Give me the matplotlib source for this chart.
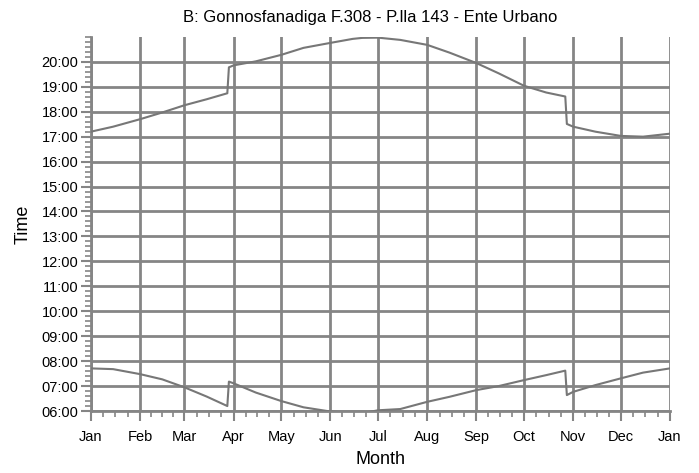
import matplotlib
matplotlib.use('Agg')
import matplotlib.pyplot as plt
from matplotlib.ticker import FuncFormatter, MultipleLocator, FixedLocator

plt.rcParams['font.family'] = ['Liberation Sans', 'DejaVu Sans']

title = "B: Gonnosfanadiga F.308 - P.lla 143 - Ente Urbano"
month_labels = ['Jan', 'Feb', 'Mar', 'Apr', 'May', 'Jun', 'Jul',
                'Aug', 'Sep', 'Oct', 'Nov', 'Dec', 'Jan']
month_starts = [0, 31, 59, 90, 120, 151, 181, 212, 243, 273, 304, 334, 365]

# day of year, with the two daylight-saving jumps (late Mar / late Oct)
days = [0, 14, 31, 45, 59, 73, 86, 87, 90, 104, 120, 134, 151, 165, 171,
        181, 195, 212, 226, 243, 257, 273, 287, 299, 300, 304, 318, 334,
        348, 365]

# sunset, hours (local time)
sunset = [17.20, 17.40, 17.70, 17.97, 18.26, 18.50, 18.74, 19.78, 19.86,
          20.02, 20.28, 20.56, 20.76, 20.92, 20.96, 20.97, 20.88, 20.68,
          20.37, 19.95, 19.54, 19.04, 18.77, 18.61, 17.51, 17.40, 17.20,
          17.03, 17.00, 17.12]

# sunrise, hours (local time)
sunrise = [7.71, 7.68, 7.48, 7.27, 6.95, 6.58, 6.20, 7.18, 7.11, 6.74,
           6.40, 6.15, 5.98, 5.92, 5.91, 6.03, 6.08, 6.37, 6.57, 6.84,
           7.00, 7.24, 7.44, 7.62, 6.64, 6.77, 7.04, 7.31, 7.54, 7.71]

fig = plt.figure(figsize=(6.99, 4.73), dpi=100)
ax = fig.add_axes([0.130, 0.131, 0.8285, 0.791])

grid_col = '#858585'
line_col = '#777777'

ax.plot(days, sunset, color=line_col, lw=1.5, zorder=3)
ax.plot(days, sunrise, color=line_col, lw=1.5, zorder=3)

ax.set_xlim(0, 365)
ax.set_ylim(6, 21)

ax.xaxis.set_major_locator(FixedLocator(month_starts))
ax.set_xticklabels(month_labels)
minor_x = []
for a, b in zip(month_starts[:-1], month_starts[1:]):
    minor_x += [a + (b - a) * k / 4 for k in (1, 2, 3)]
ax.xaxis.set_minor_locator(FixedLocator(minor_x))

ax.yaxis.set_major_locator(FixedLocator(list(range(6, 21))))
ax.yaxis.set_minor_locator(MultipleLocator(0.2))
ax.yaxis.set_major_formatter(FuncFormatter(lambda v, p: '%02d:00' % int(round(v))))

ax.grid(True, which='major', color=grid_col, lw=2.0)
for s in ['top', 'right']:
    ax.spines[s].set_visible(False)
for s in ['left', 'bottom']:
    ax.spines[s].set_color(grid_col)
    ax.spines[s].set_linewidth(2.0)

ax.tick_params(which='major', length=7, width=1.5, color=grid_col,
               labelsize=10.5)
ax.tick_params(axis='x', which='major', pad=7)
ax.tick_params(axis='y', which='major', pad=2)
ax.tick_params(which='minor', length=4, width=1.2, color=grid_col)

ax.set_xlabel('Month', fontsize=13, labelpad=5)
ax.set_ylabel('Time', fontsize=13, labelpad=7)
fig.text(0.53, 0.962, title, ha='center', va='center', fontsize=12)

fig.savefig('out.png', dpi=100)
